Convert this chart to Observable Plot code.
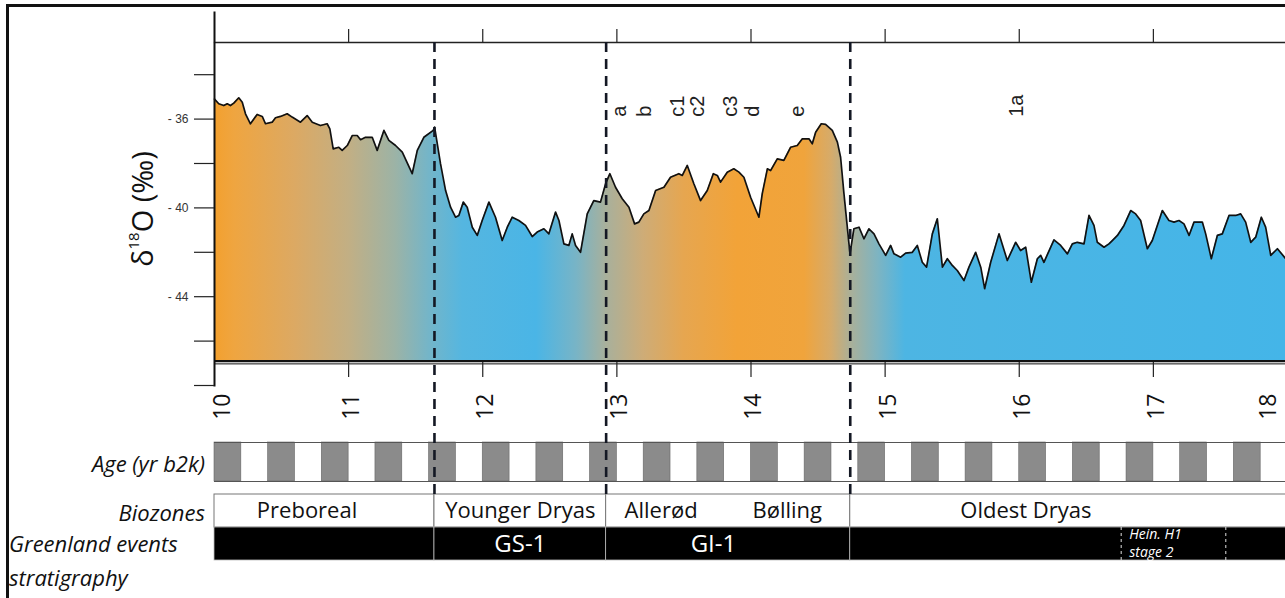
<!DOCTYPE html>
<html>
<head>
<meta charset="utf-8">
<script src="https://cdn.jsdelivr.net/npm/d3@7"></script>
<script src="https://cdn.jsdelivr.net/npm/@observablehq/plot@0.6"></script>
<style>
html, body { margin: 0; padding: 0; background: #fff; }
#wrap { position: relative; width: 1285px; height: 598px; overflow: hidden; font-family: "Open Sans", sans-serif; color: #111; }
#wrap svg { position: absolute; left: 0; }
.border { position: absolute; left: 6px; top: 4px; width: 1400px; height: 700px; border-top: 3px solid #111; border-left: 3px solid #111; }
.lab { position: absolute; font-style: italic; font-size: 22px; line-height: 26px; white-space: nowrap; color: #111; }
.ylab { position: absolute; left: 141px; top: 209px; transform: translate(-50%, -50%) rotate(-90deg); font-size: 29px; line-height: 1; white-space: nowrap; color: #111; }
.ylab sup { font-size: 15px; vertical-align: 14px; }
</style>
</head>
<body>
<div id="wrap"><div class="border"></div></div>
<script>
// ---- data ----
const ages = [10.000,10.032,10.069,10.095,10.119,10.144,10.181,10.207,10.231,10.268,10.318,10.356,10.380,10.430,10.455,10.492,10.542,10.579,10.641,10.691,10.729,10.790,10.840,10.860,10.885,10.927,10.952,10.990,11.027,11.064,11.089,11.126,11.176,11.213,11.263,11.300,11.350,11.400,11.474,11.512,11.561,11.631,11.641,11.685,11.723,11.760,11.797,11.822,11.855,11.884,11.922,11.959,11.996,12.046,12.095,12.145,12.183,12.220,12.269,12.319,12.369,12.406,12.456,12.493,12.543,12.568,12.605,12.642,12.667,12.692,12.729,12.779,12.828,12.878,12.916,12.948,12.990,13.040,13.090,13.132,13.164,13.201,13.239,13.289,13.351,13.400,13.462,13.488,13.525,13.574,13.624,13.674,13.719,13.749,13.773,13.823,13.872,13.910,13.947,13.997,14.059,14.084,14.122,14.146,14.196,14.245,14.295,14.345,14.383,14.432,14.457,14.482,14.524,14.556,14.606,14.644,14.668,14.693,14.718,14.738,14.767,14.805,14.842,14.879,14.917,14.954,15.004,15.041,15.066,15.116,15.153,15.203,15.240,15.277,15.309,15.352,15.389,15.427,15.464,15.501,15.538,15.588,15.625,15.675,15.713,15.742,15.787,15.849,15.911,15.973,16.010,16.048,16.090,16.135,16.160,16.184,16.259,16.309,16.359,16.396,16.433,16.483,16.520,16.557,16.582,16.632,16.669,16.694,16.732,16.781,16.831,16.868,16.905,16.955,16.992,17.067,17.116,17.154,17.191,17.228,17.266,17.303,17.340,17.365,17.390,17.432,17.477,17.514,17.564,17.614,17.651,17.688,17.726,17.763,17.805,17.837,17.875,17.925,17.987,18.000];
const d18O = [-35.10,-35.31,-35.39,-35.31,-35.39,-35.28,-35.04,-35.24,-35.76,-36.21,-35.79,-35.88,-36.21,-36.14,-35.94,-35.88,-35.76,-35.91,-36.14,-35.84,-36.14,-36.29,-36.21,-36.44,-37.34,-37.27,-37.41,-37.19,-36.74,-36.74,-36.93,-36.82,-36.82,-37.41,-36.51,-36.96,-37.19,-37.49,-38.46,-37.41,-36.82,-36.51,-36.36,-38.01,-39.22,-39.97,-40.42,-40.34,-39.74,-39.97,-40.87,-41.24,-40.57,-39.74,-40.42,-41.47,-40.87,-40.42,-40.57,-40.79,-41.29,-41.09,-40.94,-41.17,-40.19,-40.57,-41.62,-41.69,-41.17,-41.69,-42.00,-40.27,-39.67,-39.74,-38.91,-38.46,-39.07,-39.59,-39.97,-40.72,-40.64,-40.27,-40.12,-39.22,-39.07,-38.62,-38.46,-38.54,-38.09,-38.91,-39.67,-39.22,-38.46,-38.54,-38.84,-38.39,-38.24,-38.39,-38.62,-39.52,-40.42,-39.36,-38.24,-38.32,-37.79,-37.86,-37.27,-37.19,-36.89,-36.89,-37.11,-36.59,-36.21,-36.24,-36.51,-37.04,-37.72,-39.36,-40.87,-42.07,-40.94,-40.87,-41.39,-40.94,-41.17,-41.62,-42.14,-41.69,-42.07,-42.22,-42.04,-42.00,-41.69,-42.45,-42.67,-41.17,-40.49,-42.67,-42.29,-42.59,-42.82,-43.27,-42.67,-42.00,-42.67,-43.64,-42.45,-41.17,-42.37,-41.55,-41.92,-41.77,-43.35,-42.29,-42.14,-42.45,-41.44,-41.69,-42.07,-41.62,-41.55,-41.62,-40.34,-40.79,-41.55,-41.77,-41.62,-41.47,-41.24,-40.79,-40.12,-40.27,-40.57,-41.84,-41.47,-40.12,-40.57,-40.64,-40.57,-40.72,-41.24,-40.64,-40.64,-40.64,-41.17,-42.29,-41.24,-41.17,-40.34,-40.34,-40.27,-40.64,-41.55,-41.32,-40.42,-40.87,-42.14,-41.84,-42.29,-42.35];

const xTickValues = [10, 11, 12, 13, 14, 15, 16, 17, 18];
const topTickValues = [11, 12, 13, 14, 15, 16, 17];
const yTickValues = [-34, -36, -38, -40, -42, -44, -46, -48];
const yLabelledTicks = [-36, -40, -44];

const boundaries = [11.64, 12.92, 14.74];

const eventLetters = ["a", "b", "c1", "c2", "c3", "d", "e", "1a"];
const eventLetterAges = [13.02, 13.21, 13.45, 13.60, 13.85, 14.01, 14.35, 15.98];

const ageStripeStarts = [10.0, 10.4, 10.8, 11.2, 11.6, 12.0, 12.4, 12.8, 13.2, 13.6, 14.0, 14.4, 14.8, 15.2, 15.6, 16.0, 16.4, 16.8, 17.2, 17.6];

const biozoneNames = ["Preboreal", "Younger Dryas", "Allerød–Bølling", "Oldest Dryas"];
const biozoneStart = [10, 11.64, 12.92, 14.74];
const biozoneEnd = [11.64, 12.92, 14.74, 18];
const biozoneLabels = ["Preboreal", "Younger Dryas", "Allerød", "Bølling", "Oldest Dryas"];
const biozoneLabelAges = [10.69, 12.28, 13.33, 14.27, 16.05];

const eventStart = [10, 11.64, 12.92, 14.74];
const eventEnd = [11.64, 12.92, 14.74, 18];
const eventLabels = ["GS-1", "GI-1"];
const eventLabelAges = [12.28, 13.72];
const heinrichBounds = [16.76, 17.54];
const heinrichLines = ["Hein. H1", "stage 2"];
const heinrichLabelAge = 16.82;

const gradAges = [10.0, 10.15, 10.6, 11.0, 11.35, 11.6, 11.85, 12.4, 12.7, 12.92, 13.2, 13.5, 13.9, 14.4, 14.6, 14.75, 14.95, 15.15, 18.0];
const gradColors = ["#F3A02E", "#EFA540", "#DCA963", "#C2AF84", "#9CB3A6", "#74B5C8", "#55B6E0", "#4AB5E6", "#78B4C6", "#A8B09C", "#CEAC77", "#E6A650", "#F2A338", "#F0A43C", "#D6AB6A", "#A9B09A", "#7DB4C2", "#4DB5E3", "#44B5E8"];

// ---- build tables ----
const series = ages.map((a, i) => ({age: a, v: d18O[i]}));
const letters = eventLetters.map((t, i) => ({t, age: eventLetterAges[i]}));
const zones = biozoneNames.map((n, i) => ({n, x1: biozoneStart[i], x2: biozoneEnd[i]}));
const zoneLabs = biozoneLabels.map((t, i) => ({t, age: biozoneLabelAges[i]}));
const events = eventStart.map((s, i) => ({x1: s, x2: eventEnd[i]}));
const eventLabs = eventLabels.map((t, i) => ({t, age: eventLabelAges[i]}));

const W = 1285;
const common = {width: W, marginLeft: 214, marginRight: -2, style: {fontFamily: "Open Sans", background: "transparent"}};
const xDomain = [10, 18];
const baseline = -46.9;
const noText = () => "";

function gradientDefs(index, scales) {
  const x0 = scales.x(xDomain[0]), x1 = scales.x(xDomain[1]);
  const defs = d3.create("svg:defs");
  const lg = defs.append("linearGradient").attr("id", "o18grad")
    .attr("gradientUnits", "userSpaceOnUse")
    .attr("x1", x0).attr("x2", x1).attr("y1", 0).attr("y2", 0);
  gradAges.forEach((a, i) => lg.append("stop")
    .attr("offset", (scales.x(a) - x0) / (x1 - x0))
    .attr("stop-color", gradColors[i]));
  return defs.node();
}

const labelFont = {fontSize: 23, fontFamily: "Open Sans", fill: "#111", tickFormat: d => String(d)};

const main = Plot.plot({
  ...common,
  height: 440,
  marginTop: 42,
  marginBottom: 55,
  x: {domain: xDomain, axis: null},
  y: {domain: [-48, -32.55], axis: null},
  marks: [
    gradientDefs,
    Plot.areaY(series, {x: "age", y1: baseline, y2: "v", fill: "url(#o18grad)"}),
    Plot.ruleY([baseline], {stroke: "#111", strokeWidth: 2.2}),
    Plot.ruleY([baseline], {stroke: "#111", strokeWidth: 1, dy: 2.8}),
    Plot.lineY(series, {x: "age", y: "v", stroke: "#111", strokeWidth: 1.7}),
    Plot.frame({anchor: "top", stroke: "#222", strokeWidth: 1.3}),
    Plot.frame({anchor: "left", insetTop: -30, stroke: "#111", strokeWidth: 2}),
    Plot.axisX(topTickValues, {anchor: "top", tickSize: 14, tickFormat: noText, label: null, stroke: "#222", strokeWidth: 1.2}),
    Plot.axisX(topTickValues, {anchor: "bottom", tickSize: 15, dy: -23, tickFormat: noText, label: null, stroke: "#222", strokeWidth: 1.2}),
    Plot.axisY(yTickValues, {anchor: "left", tickSize: 20, tickPadding: 6, label: null,
      tickFormat: d => yLabelledTicks.includes(d) ? `- ${-d}` : "",
      fontSize: 12, fontFamily: "Liberation Sans", fill: "#333", stroke: "#222", strokeWidth: 1.2}),
    Plot.axisX(xTickValues.slice(1, 8), {anchor: "bottom", tickSize: 0, tickPadding: 8, tickRotate: -90, dx: 3, label: null, ...labelFont}),
    Plot.axisX([xTickValues[0]], {anchor: "bottom", tickSize: 0, tickPadding: 8, tickRotate: -90, dx: 8, label: null, ...labelFont}),
    Plot.axisX([xTickValues[8]], {anchor: "bottom", tickSize: 0, tickPadding: 8, tickRotate: -90, dx: -19, label: null, ...labelFont}),
    Plot.text(letters, {x: "age", y: -35.9, text: "t", rotate: -90, textAnchor: "start", fontSize: 20, fontFamily: "Liberation Sans", fill: "#222"})
  ]
});
main.style.top = "0px";

const ageBand = Plot.plot({
  ...common,
  height: 45,
  marginTop: 2,
  marginBottom: 4,
  x: {domain: xDomain, axis: null},
  marks: [
    Plot.rect(ageStripeStarts, {x1: d => d, x2: d => d + 0.2, fill: "#8b8b8b", stroke: "#666", strokeWidth: 0.6}),
    Plot.frame({anchor: "top", stroke: "#555", strokeWidth: 1}),
    Plot.frame({anchor: "bottom", stroke: "#555", strokeWidth: 1})
  ]
});
ageBand.style.top = "440px";

const rows = Plot.plot({
  ...common,
  height: 80,
  marginTop: 3,
  marginBottom: 10,
  x: {domain: xDomain, axis: null},
  y: {domain: ["bio", "ev"], axis: null, padding: 0},
  marks: [
    Plot.rect(zones, {x1: "x1", x2: "x2", y: () => "bio", fill: "white", stroke: "#777", strokeWidth: 1}),
    Plot.rect(events, {x1: "x1", x2: "x2", y: () => "ev", fill: "black", stroke: "#bbb", strokeWidth: 0.8}),
    Plot.tickX(heinrichBounds, {x: d => d, y: () => "ev", stroke: "#e0e0e0", strokeWidth: 1, strokeDasharray: "3,3"}),
    Plot.text(zoneLabs, {x: "age", y: () => "bio", text: "t", fontSize: 22, fontFamily: "Open Sans", fill: "#111"}),
    Plot.text(eventLabs, {x: "age", y: () => "ev", text: "t", fontSize: 24, fontFamily: "Open Sans", fill: "white"}),
    Plot.text([heinrichLines[0]], {x: heinrichLabelAge, y: () => "ev", text: d => d, dy: -9, textAnchor: "start", fontSize: 14, fontStyle: "italic", fontFamily: "Open Sans", fill: "white"}),
    Plot.text([heinrichLines[1]], {x: heinrichLabelAge, y: () => "ev", text: d => d, dy: 9, textAnchor: "start", fontSize: 14, fontStyle: "italic", fontFamily: "Open Sans", fill: "white"})
  ]
});
rows.style.top = "490px";

const dashes = Plot.plot({
  ...common,
  height: 598,
  marginTop: 42,
  marginBottom: 100,
  x: {domain: xDomain, axis: null},
  marks: [
    Plot.ruleX(boundaries, {stroke: "#141824", strokeWidth: 2.6, strokeDasharray: "10,7"})
  ]
});
dashes.style.top = "0px";

const wrap = document.getElementById("wrap");
wrap.append(main, ageBand, rows, dashes);

function addLabel(html, cls, css) {
  const d = document.createElement("div");
  d.className = cls;
  d.innerHTML = html;
  Object.assign(d.style, css);
  wrap.append(d);
}
addLabel("δ<sup>18</sup>O (‰)", "ylab", {});
addLabel("Age (yr b2k)", "lab", {right: (W - 205) + "px", top: "450px"});
addLabel("Biozones", "lab", {right: (W - 205) + "px", top: "499px"});
addLabel("Greenland events", "lab", {left: "9px", top: "530px"});
addLabel("stratigraphy", "lab", {left: "9px", top: "564px"});
</script>
</body>
</html>
